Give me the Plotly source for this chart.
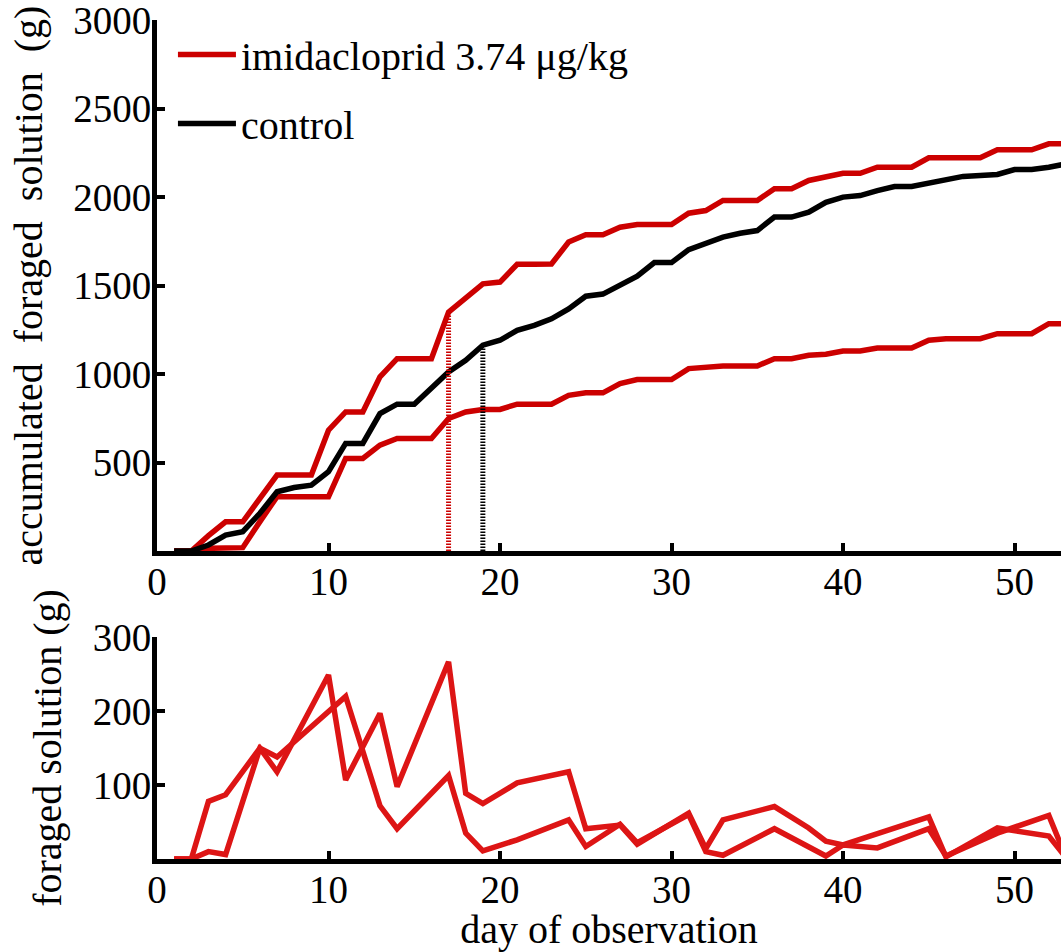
import plotly.graph_objects as go

# ---------------- data ----------------
days = list(range(1, 54))

# accumulated foraged solution (g)
imid_a_cum = [0, 0, 87, 165, 165, 297, 429, 429, 429, 683, 786, 786, 984, 1087, 1087, 1087,
              1350, 1435, 1510, 1520, 1620, 1620, 1622, 1746, 1787, 1787, 1830, 1845, 1845, 1845,
              1909, 1924, 1981, 1981, 1981, 2047, 2047, 2094, 2117, 2135, 2135, 2169, 2169, 2169,
              2222, 2222, 2222, 2222, 2267, 2267, 2267, 2301, 2301]
imid_b_cum = [0, 0, 15, 15, 19, 166, 307, 307, 307, 307, 523, 523, 598, 636, 636, 636,
              749, 786, 800, 800, 830, 830, 830, 880, 894, 894, 946, 969, 969, 969,
              1031, 1040, 1046, 1046, 1046, 1087, 1087, 1106, 1112, 1130, 1130, 1147, 1147, 1147,
              1191, 1200, 1200, 1200, 1228, 1228, 1228, 1285, 1285]
control_cum = [0, 0, 34, 90, 109, 213, 335, 359, 372, 448, 608, 608, 777, 830, 830, 918,
               1012, 1078, 1163, 1191, 1247, 1275, 1312, 1368, 1440, 1452, 1506, 1553, 1630, 1630,
               1703, 1736, 1774, 1796, 1811, 1887, 1887, 1915, 1971, 2000, 2009, 2037, 2060, 2060,
               2079, 2103, 2117, 2122, 2128, 2156, 2156, 2169, 2188]

# daily foraged solution (g), measured days only
imid_a_days = [1, 2, 3, 4, 6, 7, 10, 11, 13, 14, 17, 18, 19, 21, 24, 25, 27, 28, 31, 32, 33,
               36, 38, 39, 40, 42, 45, 46, 49, 52, 53]
imid_a_daily = [0, 0, 78, 87, 150, 118, 249, 107, 197, 98, 267, 89, 75, 103, 118, 41, 46, 20,
                62, 14, 53, 71, 42, 24, 19, 34, 57, 3, 42, 31, 2]
imid_b_days = [1, 2, 3, 4, 6, 7, 11, 13, 14, 17, 18, 19, 21, 24, 25, 27, 28, 31, 32, 33,
               36, 38, 39, 40, 42, 45, 46, 49, 52, 53]
imid_b_daily = [0, 0, 10, 6, 150, 138, 220, 72, 41, 113, 35, 11, 26, 53, 17, 47, 22, 60, 10, 5,
                41, 16, 4, 19, 15, 41, 4, 35, 59, 2]

# markers of threshold day
imid_mark_day = 17
control_mark_day = 19

series_names = ["imidacloprid 3.74 \u03bcg/kg", "control"]

top_y_ticks = [500, 1000, 1500, 2000, 2500, 3000]
bottom_y_ticks = [100, 200, 300]
x_ticks = [0, 10, 20, 30, 40, 50]

# ---------------- style ----------------
W, H = 1061, 952
RED = "#CC0000"
RED2 = "#DD1515"
BLACK = "#000000"
FONT = "Times New Roman, Liberation Serif, Times, serif"
LW = 5.5

x0_px, x_end_px = 157, 1061
x_max = 52.71
top_y_px = (20, 551)     # 3000 , 0
bot_y_px = (637, 859)    # 300 , 0

fig = go.Figure()

# top panel
fig.add_trace(go.Scatter(x=days, y=imid_a_cum, mode="lines", name=series_names[0],
                         line=dict(color=RED, width=LW), xaxis="x", yaxis="y",
                         legendgroup="imid"))
fig.add_trace(go.Scatter(x=days, y=imid_b_cum, mode="lines", name=series_names[0],
                         line=dict(color=RED, width=LW), xaxis="x", yaxis="y",
                         legendgroup="imid", showlegend=False))
fig.add_trace(go.Scatter(x=days, y=control_cum, mode="lines", name=series_names[1],
                         line=dict(color=BLACK, width=LW), xaxis="x", yaxis="y",
                         legendgroup="ctrl"))
fig.add_trace(go.Scatter(x=[imid_mark_day, imid_mark_day],
                         y=[0, imid_a_cum[days.index(imid_mark_day)]], mode="lines",
                         line=dict(color=RED, width=5, dash="1.5px,1.5px"),
                         showlegend=False, xaxis="x", yaxis="y"))
fig.add_trace(go.Scatter(x=[control_mark_day, control_mark_day],
                         y=[0, control_cum[days.index(control_mark_day)]], mode="lines",
                         line=dict(color=BLACK, width=5, dash="1.5px,1.5px"),
                         showlegend=False, xaxis="x", yaxis="y"))

# bottom panel
fig.add_trace(go.Scatter(x=imid_a_days, y=imid_a_daily, mode="lines", showlegend=False,
                         line=dict(color=RED2, width=LW), xaxis="x2", yaxis="y2"))
fig.add_trace(go.Scatter(x=imid_b_days, y=imid_b_daily, mode="lines", showlegend=False,
                         line=dict(color=RED2, width=LW), xaxis="x2", yaxis="y2"))

xdom = [x0_px / W, x_end_px / W]
top_dom = [1 - top_y_px[1] / H, 1 - top_y_px[0] / H]
bot_dom = [1 - bot_y_px[1] / H, 1 - bot_y_px[0] / H]


def axis_style(standoff):
    return dict(showline=True, linecolor="black", linewidth=5, ticks="inside",
                ticklen=8, tickwidth=4, tickcolor="black", showgrid=False,
                zeroline=False, automargin=False, ticklabeloverflow="allow",
                ticklabelstandoff=standoff,
                tickfont=dict(family=FONT, size=39, color="black"))


fig.update_layout(
    width=W, height=H,
    margin=dict(l=0, r=0, t=0, b=0),
    paper_bgcolor="white", plot_bgcolor="white",
    font=dict(family=FONT, color="black", size=39),
    xaxis=dict(domain=xdom, range=[0, x_max], anchor="y", tickvals=x_ticks, **axis_style(-8)),
    yaxis=dict(domain=top_dom, range=[0, 3001], anchor="x", tickvals=top_y_ticks,
               title=dict(text="accumulated  foraged  solution  (g)", standoff=20,
                          font=dict(family=FONT, size=40, color="black")),
               **axis_style(-7)),
    xaxis2=dict(domain=xdom, range=[0, x_max], anchor="y2", tickvals=x_ticks,
                title=dict(text="day of observation",
                           font=dict(family=FONT, size=40, color="black"), standoff=0),
                **axis_style(-8)),
    yaxis2=dict(domain=bot_dom, range=[0, 300.5], anchor="x2", tickvals=bottom_y_ticks,
                title=dict(text="foraged solution (g)", standoff=20,
                           font=dict(family=FONT, size=40, color="black")),
                **axis_style(-7)),
    legend=dict(x=0.163, y=0.977, xanchor="left", yanchor="top",
                bgcolor="rgba(0,0,0,0)", font=dict(family=FONT, size=40, color="black"),
                traceorder="grouped", tracegroupgap=14, itemwidth=58),
)

fig.write_html("out.html")
